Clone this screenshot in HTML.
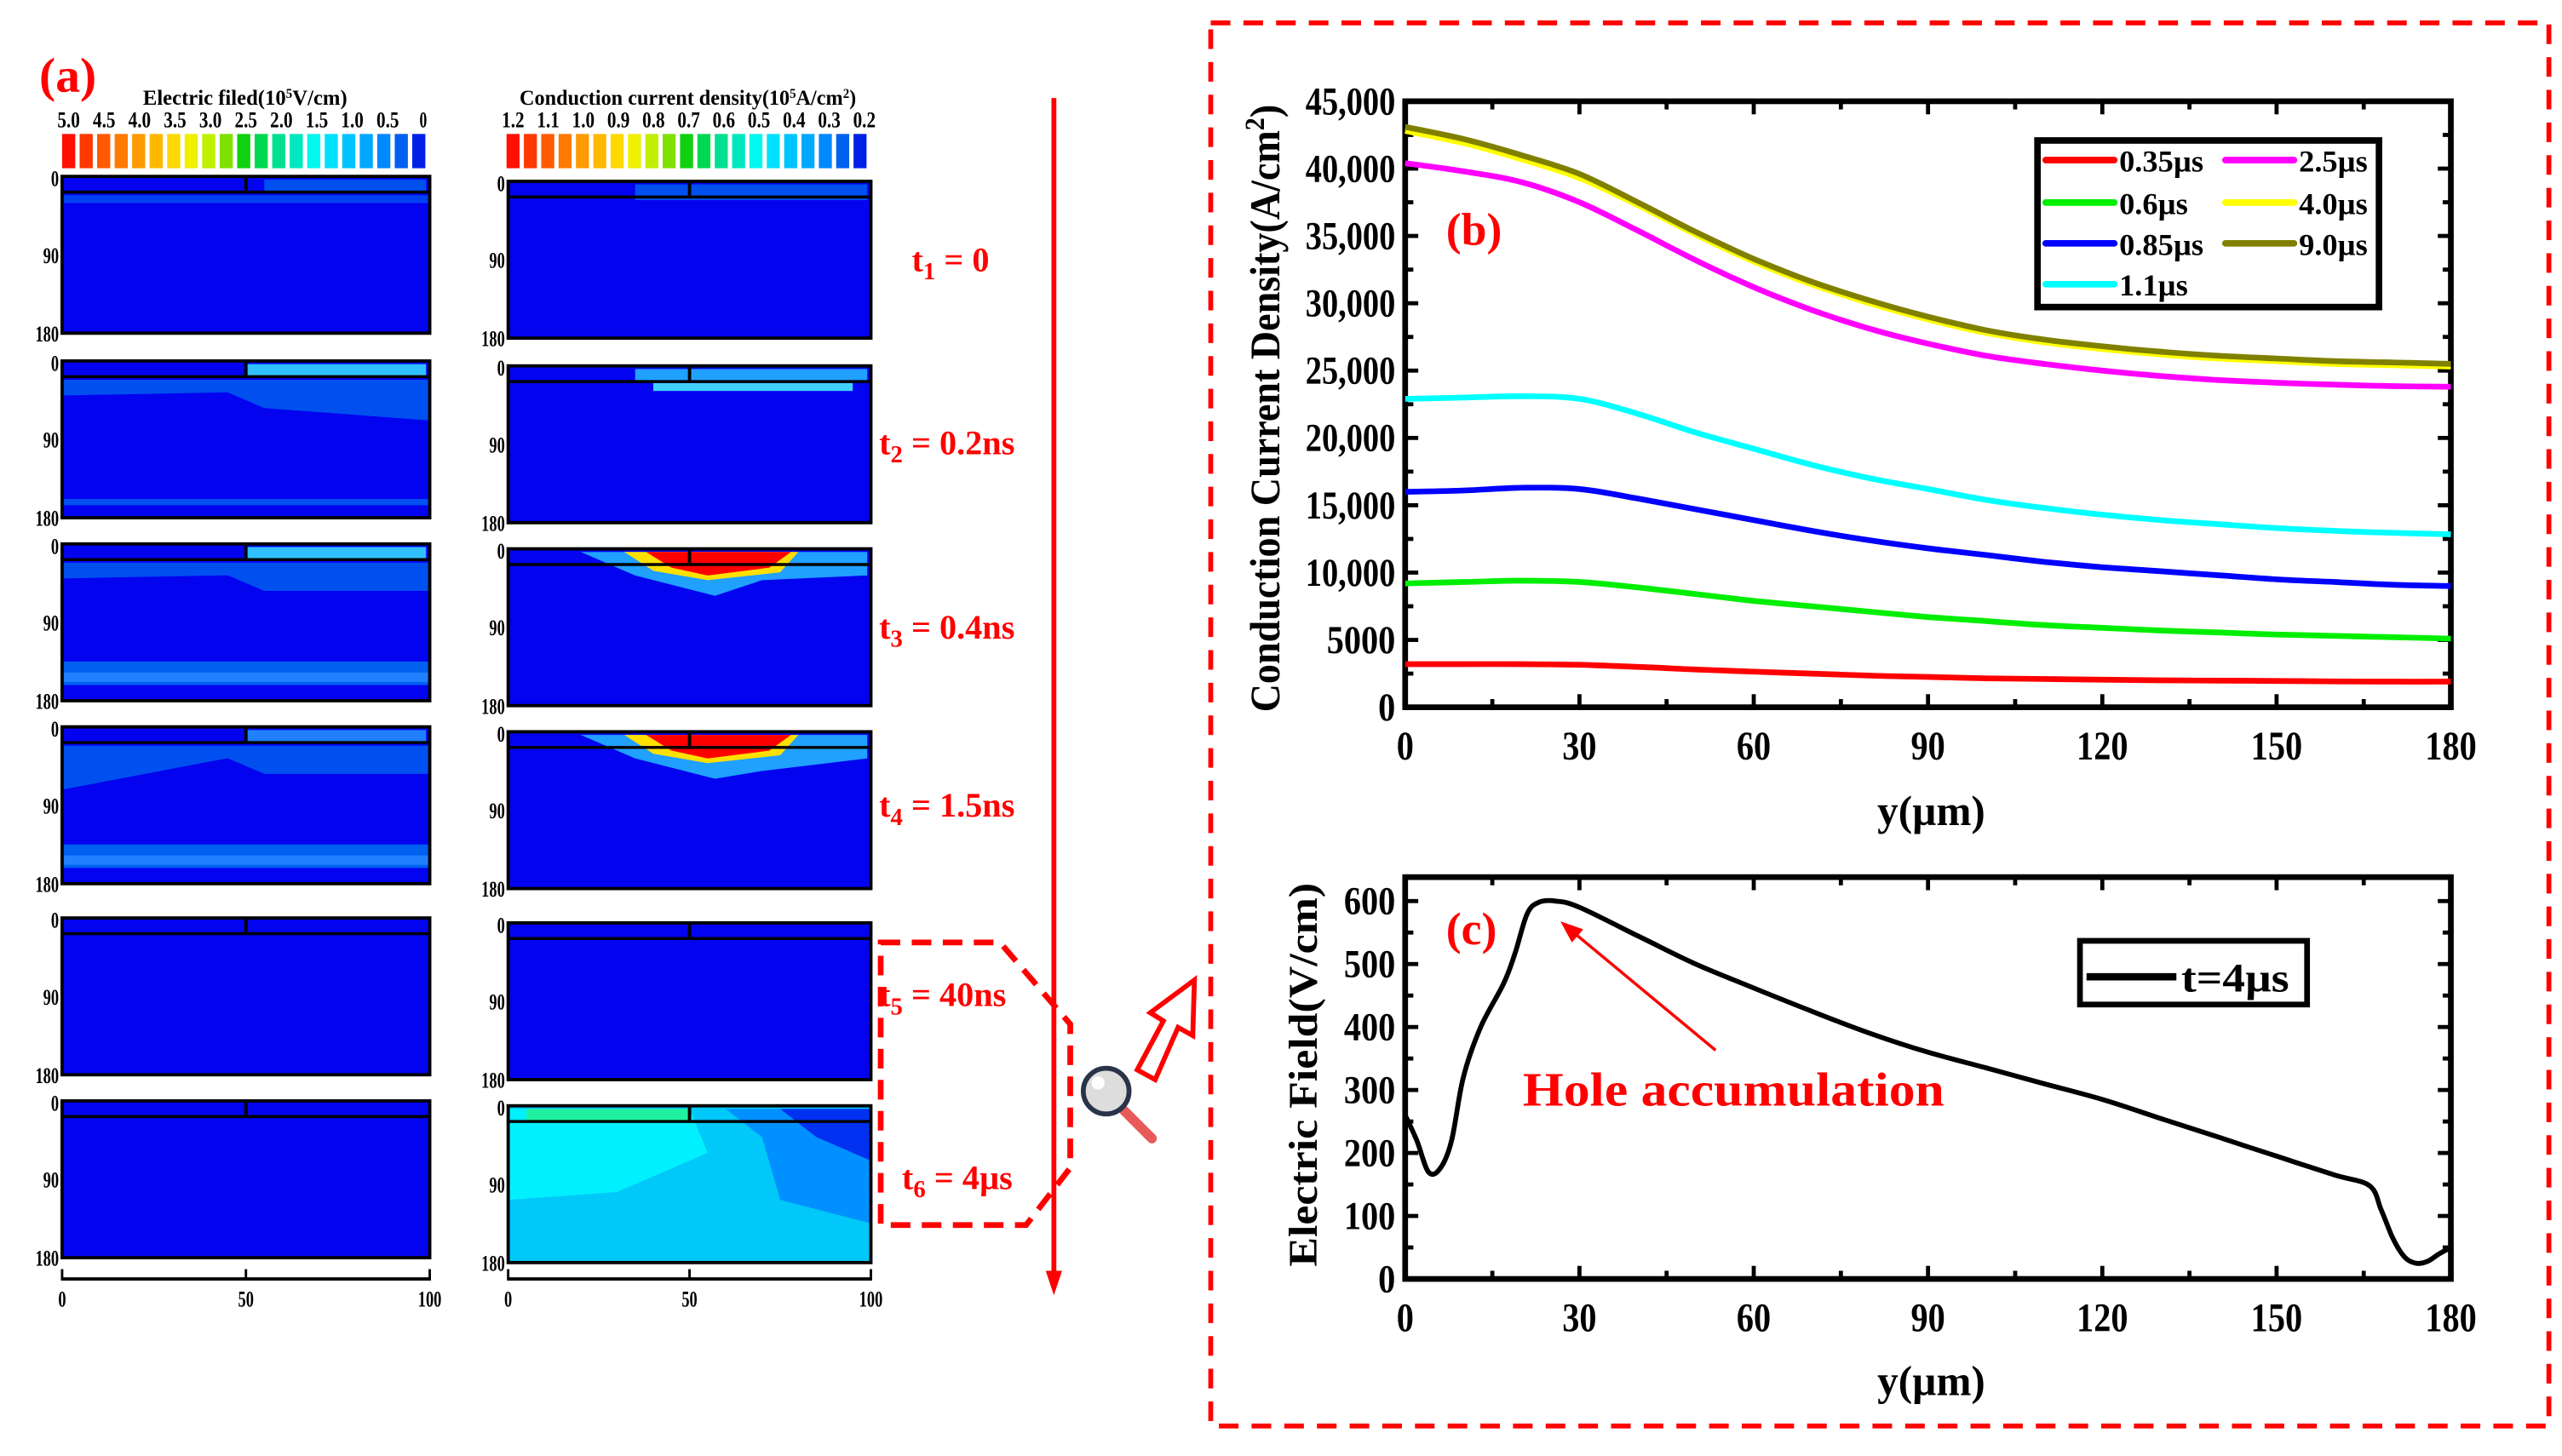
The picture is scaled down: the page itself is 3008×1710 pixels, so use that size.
<!DOCTYPE html>
<html><head><meta charset="utf-8"><style>
html,body{margin:0;padding:0;background:#fff;}
svg{display:block;}
text{font-family:"Liberation Serif",serif;font-weight:bold;}
</style></head><body>
<svg id="root" width="3008" height="1710" viewBox="0 0 1568 891.4" xmlns="http://www.w3.org/2000/svg">
<g id="left">
  <text x="24" y="56" font-size="30" fill="#f00">(a)</text>
  <text x="150" y="64" font-size="13" text-anchor="middle" textLength="125" lengthAdjust="spacingAndGlyphs">Electric filed(10<tspan baseline-shift="super" font-size="8">5</tspan>V/cm)</text>
  <text x="421" y="64" font-size="13" text-anchor="middle" textLength="206" lengthAdjust="spacingAndGlyphs">Conduction current density(10<tspan baseline-shift="super" font-size="8">5</tspan>A/cm<tspan baseline-shift="super" font-size="8">2</tspan>)</text>
  <g id="cbars"></g>
  <g id="heatmaps"></g>
  <line x1="645" y1="60" x2="645" y2="780" stroke="#f00" stroke-width="3"/>
  <polygon points="640,778 650,778 645,793" fill="#f00"/>
  <g id="tlabels" fill="#f00" font-size="21"></g>
  <polygon points="539,577 612,577 655,627 655,715 628,750 539,750" fill="none" stroke="#f00" stroke-width="3.5" stroke-dasharray="12,7"/>
  <polygon points="696,655 712,625 704,620 731,600 730,634 721,629 707,661" fill="#fff" stroke="#f00" stroke-width="3"/>
  <g>
    <line x1="688" y1="680" x2="705" y2="697" stroke="#e85a5a" stroke-width="6" stroke-linecap="round"/>
    <circle cx="677" cy="668" r="14" fill="#ddd" stroke="#2a3448" stroke-width="3"/>
    <circle cx="672" cy="663" r="4" fill="#fff"/>
  </g>
</g>
<rect x="741" y="14" width="819" height="859" fill="none" stroke="#f00" stroke-width="3" stroke-dasharray="12,8"/>
<g id="chartb"></g>
<g id="chartc"></g>
</svg>
<script>
// ---------- chart b data ----------
const bX = [0,10,20,30,40,50,60,70,80,90,100,110,120,130,140,150,160,170,180];
const bSeriesNames = ["0.35µs","0.6µs","0.85µs","1.1µs","2.5µs","4.0µs","9.0µs"];
const bColors = ["#ff0000","#00ee00","#0000ff","#00ffff","#ff00ff","#ffff00","#808000"];
const s035 = [3200,3200,3200,3150,3000,2800,2650,2500,2350,2250,2150,2100,2050,2000,1980,1950,1920,1900,1900];
const s06  = [9200,9300,9400,9300,8900,8400,7900,7500,7100,6700,6400,6100,5900,5700,5550,5400,5300,5200,5100];
const s085 = [16000,16100,16300,16200,15500,14700,13900,13100,12400,11800,11300,10800,10400,10100,9800,9500,9300,9100,9000];
const s11  = [22900,23000,23100,22900,21800,20400,19200,18000,17000,16200,15400,14800,14300,13900,13600,13300,13100,12950,12850];
const s25  = [40400,39800,39000,37500,35400,33200,31200,29500,28100,27000,26100,25500,25000,24600,24300,24100,23950,23850,23800];
const s40  = [42800,41900,40700,39300,37300,35100,33100,31400,30000,28800,27800,27100,26600,26200,25900,25700,25500,25400,25300];
const s90  = [43100,42200,41000,39600,37500,35300,33300,31600,30200,29000,28000,27300,26800,26400,26100,25900,25700,25600,25500];
const bXTicks = [0,30,60,90,120,150,180];
const bYTicks = [0,5000,10000,15000,20000,25000,30000,35000,40000,45000];
const bYTickLabels = ["0","5000","10,000","15,000","20,000","25,000","30,000","35,000","40,000","45,000"];
// ---------- chart c data ----------
const cX = [0,2,4,6,8,10,13,17,19,21,23,26,30,40,50,60,70,80,90,100,110,120,130,140,150,160,166,168,170,172,174,176,178,180];
const cY = [260,220,170,175,220,320,400,470,520,580,598,600,590,545,500,462,425,390,360,335,310,285,255,225,195,165,148,110,65,35,25,28,40,50];
const cYTicks = [0,100,200,300,400,500,600];
const cXTicks = [0,30,60,90,120,150,180];
const tLabels = [["1","0"],["2","0.2ns"],["3","0.4ns"],["4","1.5ns"],["5","40ns"],["6","4µs"]];
const cbEF = ["5.0","4.5","4.0","3.5","3.0","2.5","2.0","1.5","1.0","0.5","0"];
const cbCD = ["1.2","1.1","1.0","0.9","0.8","0.7","0.6","0.5","0.4","0.3","0.2"];

const NS="http://www.w3.org/2000/svg";
function mk(tag,attrs,parent){const e=document.createElementNS(NS,tag);for(const k in attrs)e.setAttribute(k,attrs[k]);parent.appendChild(e);return e;}
function smooth(pts){
  let d='M'+pts[0][0].toFixed(1)+','+pts[0][1].toFixed(1);
  for(let i=0;i<pts.length-1;i++){
    const p0=pts[Math.max(0,i-1)],p1=pts[i],p2=pts[i+1],p3=pts[Math.min(pts.length-1,i+2)];
    const c1=[p1[0]+(p2[0]-p0[0])/6,p1[1]+(p2[1]-p0[1])/6];
    const c2=[p2[0]-(p3[0]-p1[0])/6,p2[1]-(p3[1]-p1[1])/6];
    d+=' C'+c1[0].toFixed(1)+','+c1[1].toFixed(1)+' '+c2[0].toFixed(1)+','+c2[1].toFixed(1)+' '+p2[0].toFixed(1)+','+p2[1].toFixed(1);
  }
  return d;
}

function axes(g,L,R,T,B,xmin,xmax,ymin,ymax,xt,yt,ytl,name){
  const sx=v=>L+(v-xmin)/(xmax-xmin)*(R-L);
  const sy=v=>B-(v-ymin)/(ymax-ymin)*(B-T);
  xt.forEach((v,i)=>{
    const x=sx(v);
    mk('line',{x1:x,y1:B,x2:x,y2:B-8,stroke:'#000','stroke-width':2.5},g);
    mk('line',{x1:x,y1:T,x2:x,y2:T+8,stroke:'#000','stroke-width':2.5},g);
    if(i<xt.length-1){const xm=sx((v+xt[i+1])/2);
      mk('line',{x1:xm,y1:B,x2:xm,y2:B-5,stroke:'#000','stroke-width':2.5},g);
      mk('line',{x1:xm,y1:T,x2:xm,y2:T+5,stroke:'#000','stroke-width':2.5},g);}
    const s=String(v);
    const t=mk('text',{x:x,y:B+32,'font-size':25,'text-anchor':'middle',textLength:s.length*10.5,lengthAdjust:'spacingAndGlyphs'},g);
    t.textContent=s;
    
    
  });
  yt.forEach((v,i)=>{
    const y=sy(v);
    mk('line',{x1:L,y1:y,x2:L+8,y2:y,stroke:'#000','stroke-width':2.5},g);
    mk('line',{x1:R,y1:y,x2:R-8,y2:y,stroke:'#000','stroke-width':2.5},g);
    const nx=(i<yt.length-1)?(v+yt[i+1])/2:null;
    if(nx!==null && nx<=ymax){const ym=sy(nx);
      mk('line',{x1:L,y1:ym,x2:L+5,y2:ym,stroke:'#000','stroke-width':2.5},g);
      mk('line',{x1:R,y1:ym,x2:R-5,y2:ym,stroke:'#000','stroke-width':2.5},g);}
    const t=mk('text',{x:L-6,y:y+8,'font-size':24,'text-anchor':'end',textLength:(ytl[i].length>4?55:ytl[i].length*10.5),lengthAdjust:'spacingAndGlyphs'},g);
    t.textContent=ytl[i];
    
    
  });
  const fr=mk('rect',{x:L,y:T,width:R-L,height:B-T,fill:'none',stroke:'#000','stroke-width':3.5},g);
  
  
  return {sx,sy};
}

// ---------- chart b ----------
(function(){
  const g=document.getElementById('chartb');
  const L=860,R=1500,T=62,B=433;
  const {sx,sy}=axes(g,L,R,T,B,0,180,0,45000,bXTicks,bYTicks,bYTickLabels,'chart-b');
  const series=[s035,s06,s085,s11,s25,s40,s90];
  series.forEach((sr,k)=>{
    const d=smooth(bX.map((x,i)=>[sx(x),sy(sr[i])]));
    const p=mk('path',{d:d,fill:'none',stroke:bColors[k],'stroke-width':3.5,'stroke-linejoin':'round'},g);
    
    
  });
  const lg=mk('g',{},g);
  
  
  mk('rect',{x:1247,y:86,width:209,height:102,fill:'#fff',stroke:'#000','stroke-width':4},lg);
  const pos=[[1250,98],[1250,124],[1250,149],[1250,174],[1360,98],[1360,124],[1360,149]];
  bSeriesNames.forEach((n,k)=>{
    const [x,y]=pos[k];
    mk('line',{x1:x+2,y1:y,x2:x+44,y2:y,stroke:bColors[k],'stroke-width':4,'stroke-linecap':'round'},lg);
    const t=mk('text',{x:x+47,y:y+7,'font-size':19},lg);
    t.textContent=n;
    
    
  });
  const t1=mk('text',{x:885,y:150,'font-size':28,fill:'#f00'},g);t1.textContent='(b)';
  
  
  const t2=mk('text',{x:1182,y:505,'font-size':26,'text-anchor':'middle',textLength:66,lengthAdjust:'spacingAndGlyphs'},g);t2.textContent='y(µm)';
  
  
  const t3=mk('text',{x:0,y:0,'font-size':26,'text-anchor':'middle',transform:'translate(783,250) rotate(-90)',textLength:372,lengthAdjust:'spacingAndGlyphs','font-family':'DejaVu Serif'},g);
  t3.innerHTML='Conduction Current Density(A/cm<tspan baseline-shift="super" font-size="17">2</tspan>)';
  
  
})();

// ---------- chart c ----------
(function(){
  const g=document.getElementById('chartc');
  const L=860,R=1500,T=537,B=783;
  const {sx,sy}=axes(g,L,R,T,B,0,180,0,638,cXTicks,cYTicks,cYTicks.map(String),'chart-c');
  const d=smooth(cX.map((x,i)=>[sx(x),sy(cY[i])]));
  const p=mk('path',{d:d,fill:'none',stroke:'#000','stroke-width':3,'stroke-linejoin':'round'},g);
  
  
  const lg=mk('g',{},g);
  
  
  mk('rect',{x:1273,y:576,width:139,height:39,fill:'#fff',stroke:'#000','stroke-width':3.5},lg);
  mk('line',{x1:1277,y1:598,x2:1332,y2:598,stroke:'#000','stroke-width':4.5},lg);
  const lt=mk('text',{x:1335,y:607,'font-size':25,textLength:66,lengthAdjust:'spacingAndGlyphs'},lg);lt.textContent='t=4µs';
  
  
  const t1=mk('text',{x:885,y:578,'font-size':28,fill:'#f00'},g);t1.textContent='(c)';
  
  
  const ha=mk('text',{x:932,y:677,'font-size':29,fill:'#f00',textLength:258,lengthAdjust:'spacingAndGlyphs'},g);ha.textContent='Hole accumulation';
  
  
  const ar=mk('line',{x1:1050,y1:643,x2:962,y2:570,stroke:'#f00','stroke-width':1.8},g);
  
  
  mk('polygon',{points:'955,564 969,569 962,577',fill:'#f00'},g);
  const t2=mk('text',{x:1182,y:854,'font-size':26,'text-anchor':'middle',textLength:66,lengthAdjust:'spacingAndGlyphs'},g);t2.textContent='y(µm)';
  
  
  const t3=mk('text',{x:0,y:0,'font-size':25,'text-anchor':'middle',transform:'translate(806,658) rotate(-90)',textLength:235,lengthAdjust:'spacingAndGlyphs','font-family':'DejaVu Serif'},g);
  t3.textContent='Electric Field(V/cm)';
  
  
})();

// ---------- panel a ----------
(function(){
  const cols=["#ff1000","#ff3800","#ff5a00","#ff7a00","#ff9a00","#ffb800","#ffd800","#f0f000","#c0f000","#80e000","#10d010","#00d850","#00e090","#00e8c0","#00f8f0","#00e0ff","#00c4ff","#00a8ff","#0088ff","#0060f0","#0020e8"];
  const cb=document.getElementById('cbars');
  [[38,263,cbEF,'electric-field-colorbar'],[310,533,cbCD,'current-density-colorbar']].forEach(([x0,x1,labs,nm])=>{
    const g=mk('g',{},cb);
    
    
    const w=(x1-x0)/cols.length;
    cols.forEach((c,i)=>mk('rect',{x:x0+i*w,y:82,width:w*0.75,height:21,fill:c},g));
    labs.forEach((l,i)=>{const t=mk('text',{x:x0+4+i*(x1-x0-8)/(labs.length-1),y:78,'font-size':14,'text-anchor':'middle',textLength:l.length*4.6,lengthAdjust:'spacingAndGlyphs'},g);t.textContent=l;});
  });
  const hm=document.getElementById('heatmaps');
  const tops=[108,221,333,445,562,674];
  const H=96;
  tops.forEach((T,r)=>{
    [[38,263,'ef'],[311,533,'cd']].forEach(([L,R,kind])=>{
      const g=mk('g',{},hm);
      
      
      const W=R-L, tt=(kind==='cd'?T+3:T);
      const bg=(kind==='cd'&&r===5)?'#00c8f8':'#0303f0';
      mk('rect',{x:L,y:tt,width:W,height:H,fill:bg},g);
      const Y=f=>tt+f*H, X=f=>L+f*W;
      if(kind==='ef'){
        if(r===0){mk('rect',{x:X(0.55),y:Y(0.02),width:W*0.44,height:H*0.08,fill:'#0050f0'},g);mk('rect',{x:X(0),y:Y(0.12),width:W,height:H*0.05,fill:'#0040f0'},g);}
        if(r>=1&&r<=3){
          mk('rect',{x:X(0.5),y:Y(0.02),width:W*0.49,height:H*0.08,fill:r===3?'#2080ff':'#30c0ff'},g);
          mk('path',{d:`M${X(0)},${Y(0.12)} L${X(1)},${Y(0.12)} L${X(1)},${Y(r===1?0.38:0.3)} L${X(0.55)},${Y(0.3)} L${X(0.45)},${Y(0.2)} L${X(0)},${Y(r===3?0.4:0.22)} Z`,fill:'#0050f0'},g);
          if(r>=2){mk('rect',{x:X(0),y:Y(0.75),width:W,height:H*0.15,fill:'#0060f0'},g);mk('rect',{x:X(0),y:Y(0.82),width:W,height:H*0.06,fill:'#2080ff'},g);}
          if(r===1)mk('rect',{x:X(0),y:Y(0.88),width:W,height:H*0.04,fill:'#0050f0'},g);
        }
      } else {
        if(r===0)mk('rect',{x:X(0.35),y:Y(0.02),width:W*0.64,height:H*0.1,fill:'#0050f0'},g);
        if(r===1){mk('rect',{x:X(0.35),y:Y(0.02),width:W*0.64,height:H*0.08,fill:'#20a0ff'},g);mk('rect',{x:X(0.4),y:Y(0.11),width:W*0.55,height:H*0.05,fill:'#40d0ff'},g);}
        if(r===2||r===3){
          mk('path',{d:`M${X(0.2)},${Y(0.02)} L${X(0.99)},${Y(0.02)} L${X(0.99)},${Y(0.17)} L${X(0.7)},${Y(r===3?0.25:0.2)} L${X(0.57)},${Y(0.3)} L${X(0.35)},${Y(0.17)} Z`,fill:'#20a0ff'},g);
          mk('path',{d:`M${X(0.32)},${Y(0.02)} L${X(0.8)},${Y(0.02)} L${X(0.75)},${Y(0.15)} L${X(0.55)},${Y(0.2)} L${X(0.4)},${Y(0.14)} Z`,fill:'#ffe000'},g);
          mk('path',{d:`M${X(0.38)},${Y(0.02)} L${X(0.78)},${Y(0.02)} L${X(0.72)},${Y(0.12)} L${X(0.55)},${Y(0.17)} L${X(0.45)},${Y(0.12)} Z`,fill:'#ff0000'},g);
        }
        if(r===5){
          mk('path',{d:`M${X(0)},${Y(0.02)} L${X(0.5)},${Y(0.02)} L${X(0.55)},${Y(0.3)} L${X(0.3)},${Y(0.55)} L${X(0)},${Y(0.6)} Z`,fill:'#00f0ff'},g);
          mk('path',{d:`M${X(0.6)},${Y(0.02)} L${X(1)},${Y(0.02)} L${X(1)},${Y(0.75)} L${X(0.75)},${Y(0.6)} L${X(0.7)},${Y(0.2)} Z`,fill:'#0090ff'},g);
          mk('path',{d:`M${X(0.75)},${Y(0.02)} L${X(1)},${Y(0.02)} L${X(1)},${Y(0.35)} L${X(0.85)},${Y(0.2)} Z`,fill:'#0030f0'},g);
          mk('rect',{x:X(0.05),y:Y(0.02),width:W*0.45,height:H*0.08,fill:'#20f0a0'},g);
        }
      }
      mk('line',{x1:L,y1:Y(0.1),x2:R,y2:Y(0.1),stroke:'#000','stroke-width':1.8},g);
      mk('line',{x1:X(0.5),y1:tt,x2:X(0.5),y2:Y(0.1),stroke:'#000','stroke-width':2},g);
      mk('rect',{x:L,y:tt,width:W,height:H,fill:'none',stroke:'#000','stroke-width':2},g);
      [['0',0],['90',0.5],['180',1]].forEach(([s,f])=>{const t=mk('text',{x:L-2,y:Y(f)+(f===0?6:5),'font-size':14,'text-anchor':'end',textLength:s.length*4.8,lengthAdjust:'spacingAndGlyphs'},g);t.textContent=s;});
    });
  });
  [[38,263,'ef-x-axis'],[311,533,'cd-x-axis']].forEach(([L,R,nm])=>{
    const g=mk('g',{},hm);
    
    
    mk('line',{x1:L,y1:783,x2:R,y2:783,stroke:'#000','stroke-width':2},g);
    [0,50,100].forEach(v=>{const x=L+v/100*(R-L);
      mk('line',{x1:x,y1:777,x2:x,y2:784,stroke:'#000','stroke-width':1.5},g);
      const s=String(v);
      const t=mk('text',{x:x,y:800,'font-size':14,'text-anchor':'middle',textLength:s.length*4.8,lengthAdjust:'spacingAndGlyphs'},g);t.textContent=s;});
  });
  const tl=document.getElementById('tlabels');
  const ty=[166,278,391,500,616,728];
  tLabels.forEach(([s,v],i)=>{
    const t=mk('text',{x:(i===5?552:(i===0?558:538)),y:ty[i]},tl);
    t.innerHTML='t<tspan font-size="15" dy="5">'+s+'</tspan><tspan dy="-5"> = '+v+'</tspan>';
    
    
  });
})();
</script>
</body></html>
